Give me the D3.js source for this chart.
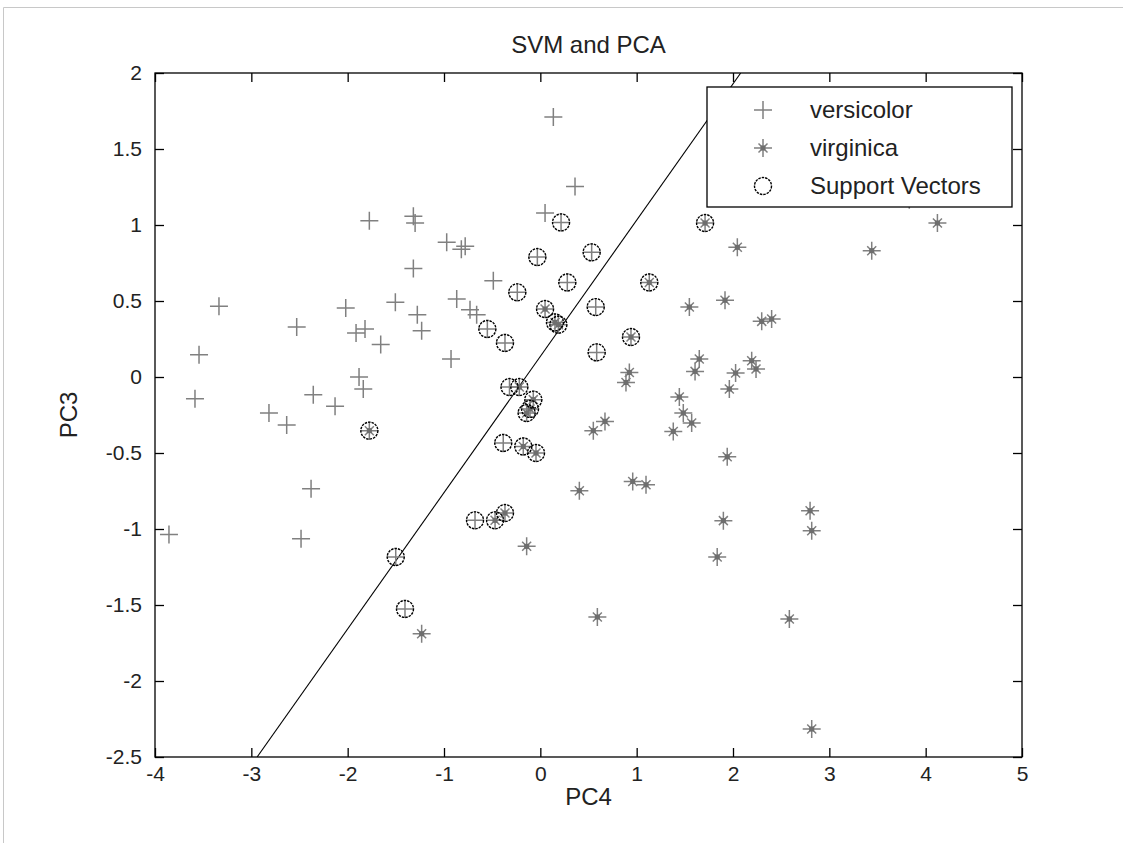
<!DOCTYPE html>
<html>
<head>
<meta charset="utf-8">
<script src="https://cdn.jsdelivr.net/npm/d3@7/dist/d3.min.js"></script>
<style>
  html, body { margin: 0; padding: 0; background: #fff; }
  svg { display: block; }
  text { font-family: "Liberation Sans", Arial, Helvetica, sans-serif; fill: #222; }
</style>
</head>
<body>
<svg id="chart" width="1123" height="843"></svg>
<script>
// ---- data ----
const versicolorX = [0.135, 0.36, 0.049, -0.972, -0.82, -0.78, -0.488, -0.868, -0.73, -0.661,
  -1.775, -1.318, -1.30, -1.318, -3.336, -2.02, -1.505, -1.277, -1.232, -2.529,
  -1.913, -1.82, -1.657, -3.543, -1.882, -1.838, -3.585, -2.357, -2.131, -2.817,
  -2.633, -2.38, -3.855, -2.484, -0.927,
  0.215, -0.031, 0.533, 0.28, -0.239, 0.575, -0.55, -0.367, 0.585, -0.32,
  -0.385, -0.678, -1.501, -1.405];
const versicolorY = [1.71, 1.254, 1.079, 0.886, 0.84, 0.86, 0.633, 0.513, 0.443, 0.41,
  1.028, 1.057, 1.013, 0.713, 0.465, 0.454, 0.491, 0.41, 0.305, 0.329,
  0.289, 0.316, 0.213, 0.147, 0.0, -0.079, -0.143, -0.116, -0.193, -0.237,
  -0.316, -0.735, -1.037, -1.064, 0.118,
  1.017, 0.789, 0.82, 0.622, 0.557, 0.46, 0.316, 0.224, 0.162, -0.066,
  -0.434, -0.943, -1.184, -1.526];

const virginicaX = [1.547, 1.917, 1.65, 1.606, 0.924, 0.889, 1.962, 1.443, 1.484, 1.571,
  1.38, 0.671, 0.55, 1.94, 0.959, 1.097, 0.405, 1.9, -0.142, 2.298,
  2.401, 2.194, 2.239, 2.027, 2.8, 2.817, 4.122, 3.44, 2.045, 3.83,
  -1.232, 0.592, 1.836, 2.585, 2.817,
  1.71, 1.131, 0.049, 0.152, 0.187, -0.218, -0.073, -0.107, -0.142, -0.177,
  -0.045, -0.47, -0.367, 0.941, -1.775];
const virginicaY = [0.46, 0.505, 0.118, 0.037, 0.03, -0.036, -0.079, -0.132, -0.237, -0.303,
  -0.358, -0.292, -0.353, -0.525, -0.687, -0.709, -0.748, -0.945, -1.114, 0.366,
  0.382, 0.107, 0.053, 0.026, -0.88, -1.011, 1.013, 0.831, 0.853, 1.166,
  -1.689, -1.579, -1.184, -1.592, -2.316,
  1.013, 0.622, 0.447, 0.359, 0.344, -0.066, -0.149, -0.21, -0.237, -0.457,
  -0.5, -0.943, -0.895, 0.263, -0.353];

const svX = [0.215, -0.031, 0.533, 0.28, -0.239, 0.575, -0.55, -0.367, 0.585, -0.32,
  -0.385, -0.678, -1.501, -1.405,
  1.71, 1.131, 0.049, 0.152, 0.187, -0.218, -0.073, -0.107, -0.142, -0.177,
  -0.045, -0.47, -0.367, 0.941, -1.775];
const svY = [1.017, 0.789, 0.82, 0.622, 0.557, 0.46, 0.316, 0.224, 0.162, -0.066,
  -0.434, -0.943, -1.184, -1.526,
  1.013, 0.622, 0.447, 0.359, 0.344, -0.066, -0.149, -0.21, -0.237, -0.457,
  -0.5, -0.943, -0.895, 0.263, -0.353];

const boundaryX = [-2.94, 2.08];
const boundaryY = [-2.5, 2.0];

const xTicks = [-4, -3, -2, -1, 0, 1, 2, 3, 4, 5];
const yTicks = [-2.5, -2, -1.5, -1, -0.5, 0, 0.5, 1, 1.5, 2];
const legendLabels = ["versicolor", "virginica", "Support Vectors"];
const titleText = "SVM and PCA";
const xLabel = "PC4";
const yLabel = "PC3";

// ---- layout ----
const L = 155, R = 1022, T = 73, B = 757;
const svg = d3.select("#chart");
const x = d3.scaleLinear().domain([-4, 5]).range([L, R]);
const y = d3.scaleLinear().domain([-2.5, 2]).range([B, T]);
const gray = "#808080";

// figure frame lines (light gray)
svg.append("line").attr("x1", 3.5).attr("x2", 1123).attr("y1", 7.5).attr("y2", 7.5)
  .attr("stroke", "#c8c8c8");
svg.append("line").attr("x1", 3.5).attr("x2", 3.5).attr("y1", 7.5).attr("y2", 843)
  .attr("stroke", "#c8c8c8");

// clip
svg.append("clipPath").attr("id", "clip").append("rect")
  .attr("x", L).attr("y", T).attr("width", R - L).attr("height", B - T);

// axes (ticks inward)
const tickLen = 9;
const fs = 21;
const fmt = d => String(d); // plain hyphen-minus like the reference
const xAxisB = d3.axisBottom(x).tickValues(xTicks).tickSize(-tickLen).tickPadding(9).tickFormat(fmt);
const xAxisT = d3.axisTop(x).tickValues(xTicks).tickSize(-tickLen).tickFormat("");
const yAxisL = d3.axisLeft(y).tickValues(yTicks).tickSize(-tickLen).tickPadding(13).tickFormat(fmt);
const yAxisR = d3.axisRight(y).tickValues(yTicks).tickSize(-tickLen).tickFormat("");

function styleAxis(g) {
  g.select(".domain").remove();
  g.selectAll(".tick line").attr("stroke", "#000").attr("stroke-width", 1.3);
  g.selectAll(".tick text").attr("fill", "#222").style("font-size", fs + "px")
    .style("font-family", '"Liberation Sans", Arial, sans-serif');
}
svg.append("g").attr("transform", `translate(0,${B})`).call(xAxisB).call(styleAxis);
svg.append("g").attr("transform", `translate(0,${T})`).call(xAxisT).call(styleAxis);
svg.append("g").attr("transform", `translate(${L},0)`).call(yAxisL).call(styleAxis);
svg.append("g").attr("transform", `translate(${R},0)`).call(yAxisR).call(styleAxis);

const plot = svg.append("g").attr("clip-path", "url(#clip)");

// boundary line
plot.append("path")
  .datum(boundaryX.map((v, i) => [v, boundaryY[i]]))
  .attr("d", d3.line().x(d => x(d[0])).y(d => y(d[1])))
  .attr("fill", "none").attr("stroke", "#000").attr("stroke-width", 1.1);

// marker painters
function plusPath(cx, cy, s) {
  return `M${cx - s},${cy}H${cx + s}M${cx},${cy - s}V${cy + s}`;
}
function starPath(cx, cy, s) {
  const d = s * 0.5;
  return plusPath(cx, cy, s) + `M${cx - d},${cy - d}L${cx + d},${cy + d}M${cx - d},${cy + d}L${cx + d},${cy - d}`;
}

const vers = versicolorX.map((v, i) => [v, versicolorY[i]]);
const virg = virginicaX.map((v, i) => [v, virginicaY[i]]);
const sv = svX.map((v, i) => [v, svY[i]]);

plot.selectAll("path.vers").data(vers).enter().append("path").attr("class", "vers")
  .attr("d", d => plusPath(x(d[0]), y(d[1]), 9))
  .attr("stroke", gray).attr("stroke-width", 1.5).attr("fill", "none");

plot.selectAll("path.virg").data(virg).enter().append("path").attr("class", "virg")
  .attr("d", d => starPath(x(d[0]), y(d[1]), 9))
  .attr("stroke", gray).attr("stroke-width", 1.5).attr("fill", "none");
plot.selectAll("rect.virgc").data(virg).enter().append("rect").attr("class", "virgc")
  .attr("x", d => x(d[0]) - 2.5).attr("y", d => y(d[1]) - 2.5)
  .attr("width", 5).attr("height", 5).attr("fill", "#6e6e6e");

plot.selectAll("circle.sv").data(sv).enter().append("circle").attr("class", "sv")
  .attr("cx", d => x(d[0])).attr("cy", d => y(d[1])).attr("r", 8.5)
  .attr("fill", "none").attr("stroke", "#000").attr("stroke-width", 1.4)
  .attr("stroke-dasharray", "2.5,1");

// plot box
svg.append("rect").attr("x", L).attr("y", T).attr("width", R - L).attr("height", B - T)
  .attr("fill", "none").attr("stroke", "#000").attr("stroke-width", 1.3);

// title and axis labels
svg.append("text").attr("x", (L + R) / 2).attr("y", 53).attr("text-anchor", "middle")
  .style("font-size", "24px").text(titleText);
svg.append("text").attr("x", (L + R) / 2).attr("y", 805).attr("text-anchor", "middle")
  .style("font-size", "24px").text(xLabel);
svg.append("text").attr("transform", `translate(77,${(T + B) / 2}) rotate(-90)`)
  .attr("text-anchor", "middle").style("font-size", "24px").text(yLabel);

// legend
const lg = svg.append("g");
lg.append("rect").attr("x", 707).attr("y", 87).attr("width", 305).attr("height", 120)
  .attr("fill", "#fff").attr("stroke", "#000").attr("stroke-width", 1.3);
const rowsY = [110, 148, 186];
const mx = 763;
lg.append("path").attr("d", plusPath(mx, rowsY[0], 9)).attr("stroke", gray).attr("stroke-width", 1.5);
lg.append("path").attr("d", starPath(mx, rowsY[1], 9)).attr("stroke", gray).attr("stroke-width", 1.5);
lg.append("rect").attr("x", mx - 2.5).attr("y", rowsY[1] - 2.5).attr("width", 5).attr("height", 5).attr("fill", "#6e6e6e");
lg.append("circle").attr("cx", mx).attr("cy", rowsY[2]).attr("r", 8.5).attr("fill", "none")
  .attr("stroke", "#000").attr("stroke-width", 1.4).attr("stroke-dasharray", "2.5,1");
lg.selectAll("text.lt").data(legendLabels).enter().append("text").attr("class", "lt")
  .attr("x", 810).attr("y", (d, i) => rowsY[i] + 8).style("font-size", "24px").text(d => d);
</script>
</body>
</html>
